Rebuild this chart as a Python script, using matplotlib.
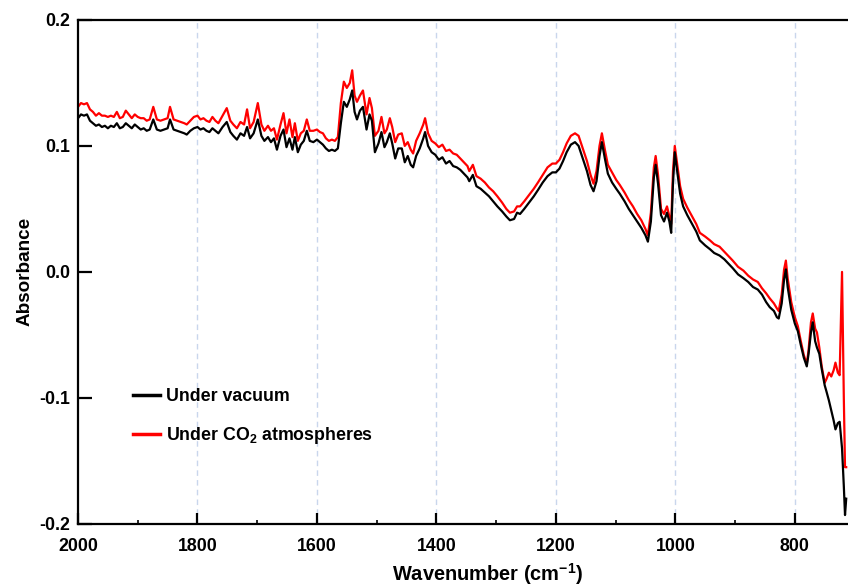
import matplotlib
matplotlib.use('Agg')
import matplotlib.pyplot as plt
from matplotlib.ticker import MultipleLocator

plt.rcParams['font.family'] = ['Liberation Sans', 'DejaVu Sans']
plt.rcParams['font.weight'] = 'bold'
plt.rcParams['mathtext.fontset'] = 'custom'
plt.rcParams['mathtext.rm'] = 'Liberation Sans:bold'
plt.rcParams['mathtext.bf'] = 'Liberation Sans:bold'
plt.rcParams['mathtext.default'] = 'bf'
plt.rcParams['axes.unicode_minus'] = False

# 波数 / 吸光度
wavenumber = [2000, 1995, 1990, 1985, 1980, 1975, 1970, 1965, 1960, 1955, 1950, 1945, 1940, 1935,
              1930, 1925, 1920, 1915, 1910, 1905, 1900, 1895, 1890, 1885, 1880, 1874, 1868, 1862,
              1856, 1850, 1846, 1840, 1834, 1828, 1822, 1818, 1812, 1806, 1800, 1795, 1790, 1785,
              1780, 1775, 1770, 1765, 1758, 1751, 1745, 1740, 1734, 1728, 1722, 1717, 1712, 1706,
              1699, 1693, 1688, 1682, 1677, 1672, 1667, 1661, 1656, 1651, 1646, 1641, 1637, 1632,
              1627, 1622, 1617, 1612, 1606, 1600, 1595, 1590, 1585, 1580, 1575, 1570, 1565, 1560,
              1555, 1550, 1545, 1541, 1537, 1533, 1528, 1523, 1517, 1512, 1508, 1503, 1497, 1492,
              1487, 1483, 1478, 1474, 1469, 1464, 1458, 1453, 1448, 1443, 1439, 1434, 1428, 1422,
              1419, 1414, 1408, 1402, 1396, 1390, 1384, 1378, 1372, 1366, 1360, 1354, 1348, 1345,
              1339, 1333, 1326, 1319, 1312, 1305, 1298, 1290, 1283, 1277, 1270, 1265, 1260, 1253,
              1245, 1237, 1230, 1222, 1214, 1206, 1200, 1194, 1188, 1182, 1175, 1168, 1162, 1155,
              1148, 1142, 1137, 1132, 1127, 1123, 1118, 1113, 1106, 1099, 1093, 1085, 1078, 1071,
              1064, 1057, 1050, 1046, 1041, 1036, 1033, 1029, 1024, 1019, 1014, 1010, 1007, 1004,
              1001, 997, 992, 987, 980, 972, 965, 959, 950, 942, 935, 926, 918, 910,
              904, 895, 886, 878, 870, 862, 855, 848, 842, 835, 830, 827, 822, 818,
              815, 812, 806, 800, 795, 790, 785, 780, 777, 773, 770, 766, 763, 759,
              755, 750, 747, 743, 739, 735, 732, 728, 725, 721, 718, 716, 714]

vacuum = [0.122, 0.125, 0.124, 0.125, 0.120, 0.118, 0.116, 0.117, 0.115, 0.116, 0.114, 0.116, 0.115, 0.118,
          0.114, 0.115, 0.118, 0.116, 0.114, 0.117, 0.115, 0.113, 0.114, 0.112, 0.113, 0.121, 0.113, 0.112,
          0.113, 0.114, 0.121, 0.113, 0.112, 0.111, 0.110, 0.109, 0.112, 0.114, 0.115, 0.113, 0.114, 0.112,
          0.111, 0.114, 0.112, 0.110, 0.115, 0.119, 0.111, 0.108, 0.105, 0.110, 0.108, 0.115, 0.106, 0.110,
          0.121, 0.108, 0.104, 0.107, 0.103, 0.106, 0.097, 0.108, 0.113, 0.099, 0.106, 0.097, 0.107, 0.095,
          0.101, 0.104, 0.112, 0.104, 0.103, 0.105, 0.103, 0.101, 0.098, 0.096, 0.097, 0.096, 0.098, 0.118,
          0.135, 0.131, 0.137, 0.144, 0.127, 0.121, 0.128, 0.131, 0.113, 0.125, 0.120, 0.095, 0.102, 0.111,
          0.099, 0.103, 0.110, 0.102, 0.090, 0.098, 0.098, 0.087, 0.092, 0.085, 0.083, 0.092, 0.098, 0.106,
          0.111, 0.100, 0.095, 0.093, 0.089, 0.091, 0.086, 0.088, 0.084, 0.083, 0.081, 0.078, 0.075, 0.072,
          0.077, 0.068, 0.066, 0.063, 0.060, 0.056, 0.052, 0.048, 0.044, 0.041, 0.042, 0.047, 0.046, 0.050,
          0.055, 0.060, 0.065, 0.071, 0.076, 0.079, 0.079, 0.082, 0.088, 0.095, 0.101, 0.103, 0.100, 0.090,
          0.080, 0.069, 0.064, 0.072, 0.092, 0.103, 0.090, 0.078, 0.071, 0.066, 0.062, 0.056, 0.050, 0.045,
          0.040, 0.035, 0.029, 0.024, 0.040, 0.075, 0.085, 0.070, 0.045, 0.040, 0.047, 0.040, 0.031, 0.070,
          0.095, 0.080, 0.062, 0.052, 0.045, 0.038, 0.032, 0.025, 0.021, 0.018, 0.015, 0.013, 0.010, 0.006,
          0.003, -0.002, -0.005, -0.008, -0.012, -0.014, -0.018, -0.024, -0.028, -0.031, -0.036, -0.037, -0.025, -0.006,
          0.002, -0.012, -0.030, -0.041, -0.047, -0.058, -0.068, -0.075, -0.065, -0.048, -0.040, -0.055, -0.060, -0.065,
          -0.077, -0.090, -0.095, -0.102, -0.110, -0.118, -0.125, -0.120, -0.119, -0.140, -0.170, -0.193, -0.180]

co2 = [0.131, 0.134, 0.133, 0.134, 0.129, 0.127, 0.124, 0.126, 0.124, 0.124, 0.123, 0.124, 0.123, 0.127,
       0.122, 0.123, 0.128, 0.125, 0.122, 0.125, 0.123, 0.122, 0.122, 0.120, 0.121, 0.131, 0.121, 0.120,
       0.121, 0.122, 0.131, 0.121, 0.120, 0.119, 0.118, 0.117, 0.120, 0.123, 0.124, 0.121, 0.122, 0.120,
       0.119, 0.123, 0.120, 0.118, 0.124, 0.130, 0.120, 0.117, 0.114, 0.119, 0.117, 0.129, 0.114, 0.119,
       0.134, 0.117, 0.112, 0.116, 0.112, 0.114, 0.105, 0.117, 0.126, 0.110, 0.121, 0.107, 0.118, 0.104,
       0.110, 0.112, 0.121, 0.112, 0.112, 0.113, 0.111, 0.110, 0.106, 0.104, 0.105, 0.104, 0.107, 0.134,
       0.151, 0.146, 0.150, 0.160, 0.140, 0.135, 0.140, 0.144, 0.125, 0.138, 0.130, 0.108, 0.112, 0.123,
       0.110, 0.113, 0.122, 0.115, 0.103, 0.109, 0.110, 0.100, 0.103, 0.097, 0.094, 0.104, 0.110, 0.117,
       0.122, 0.110, 0.104, 0.102, 0.099, 0.101, 0.096, 0.097, 0.094, 0.093, 0.090, 0.087, 0.084, 0.080,
       0.085, 0.076, 0.074, 0.071, 0.067, 0.064, 0.060, 0.055, 0.050, 0.047, 0.048, 0.052, 0.052, 0.056,
       0.061, 0.066, 0.071, 0.077, 0.083, 0.086, 0.086, 0.089, 0.095, 0.102, 0.108, 0.110, 0.108, 0.098,
       0.088, 0.077, 0.070, 0.080, 0.100, 0.110, 0.097, 0.085, 0.079, 0.073, 0.069, 0.063, 0.057, 0.052,
       0.046, 0.041, 0.034, 0.029, 0.047, 0.083, 0.092, 0.077, 0.050, 0.046, 0.052, 0.044, 0.038, 0.080,
       0.100, 0.086, 0.068, 0.058, 0.051, 0.044, 0.038, 0.031, 0.028, 0.025, 0.022, 0.020, 0.016, 0.012,
       0.009, 0.004, 0.001, -0.003, -0.006, -0.008, -0.013, -0.017, -0.021, -0.025, -0.029, -0.031, -0.018, 0.002,
       0.009, -0.005, -0.024, -0.036, -0.043, -0.055, -0.066, -0.073, -0.062, -0.040, -0.033, -0.045, -0.048, -0.060,
       -0.075, -0.088, -0.085, -0.080, -0.083, -0.078, -0.072, -0.080, -0.082, 0.000, -0.100, -0.155, -0.155]

plt.figure(figsize=(8.48, 5.86), dpi=100)
ax = plt.axes([0.092, 0.106, 0.908, 0.860])

ax.plot(wavenumber, co2, color='#ff0000', lw=1.6, label='Under CO$_2$ atmospheres', zorder=2)
ax.plot(wavenumber, vacuum, color='black', lw=1.6, label='Under vacuum', zorder=3)

ax.set_xlim(2000, 711)
ax.set_ylim(-0.2, 0.2)
ax.xaxis.set_major_locator(MultipleLocator(200))
ax.xaxis.set_minor_locator(MultipleLocator(100))
ax.yaxis.set_major_locator(MultipleLocator(0.1))
ax.yaxis.set_major_formatter(plt.FuncFormatter(lambda v, p: '%.1f' % v))

for x in [1800, 1600, 1400, 1200, 1000, 800]:
    ax.axvline(x, color='#c9d6ec', lw=1, ls=(0, (4, 3)), zorder=1)

ax.spines['right'].set_visible(False)
for s in ['left', 'bottom', 'top']:
    ax.spines[s].set_linewidth(1.6)
ax.tick_params(axis='both', which='major', direction='in', length=8, width=1.6, labelsize=12.8)
ax.tick_params(axis='x', which='major', pad=10.5)
ax.tick_params(axis='x', which='minor', direction='in', length=3, width=1.2)
ax.tick_params(axis='y', which='major', length=10, pad=5.5)

plt.xlabel('Wavenumber (cm$^{-1}$)', fontsize=14.4, fontweight='bold')
ax.xaxis.set_label_coords(0.532, -0.073)  # 原图右侧被裁掉, 标题居中于更宽的坐标轴
plt.ylabel('Absorbance', fontsize=13.6, fontweight='bold', labelpad=4)

h, l = ax.get_legend_handles_labels()
leg = ax.legend(h[::-1], l[::-1], loc='upper left', bbox_to_anchor=(133 / 848, 1 - 388 / 586),
                bbox_transform=plt.gcf().transFigure, frameon=False, fontsize=12.8,
                handlelength=1.5, handletextpad=0.35, labelspacing=1.15, borderpad=0, borderaxespad=0)
for line in leg.get_lines():
    line.set_linewidth(2.5)

plt.savefig('out.png', dpi=100)
